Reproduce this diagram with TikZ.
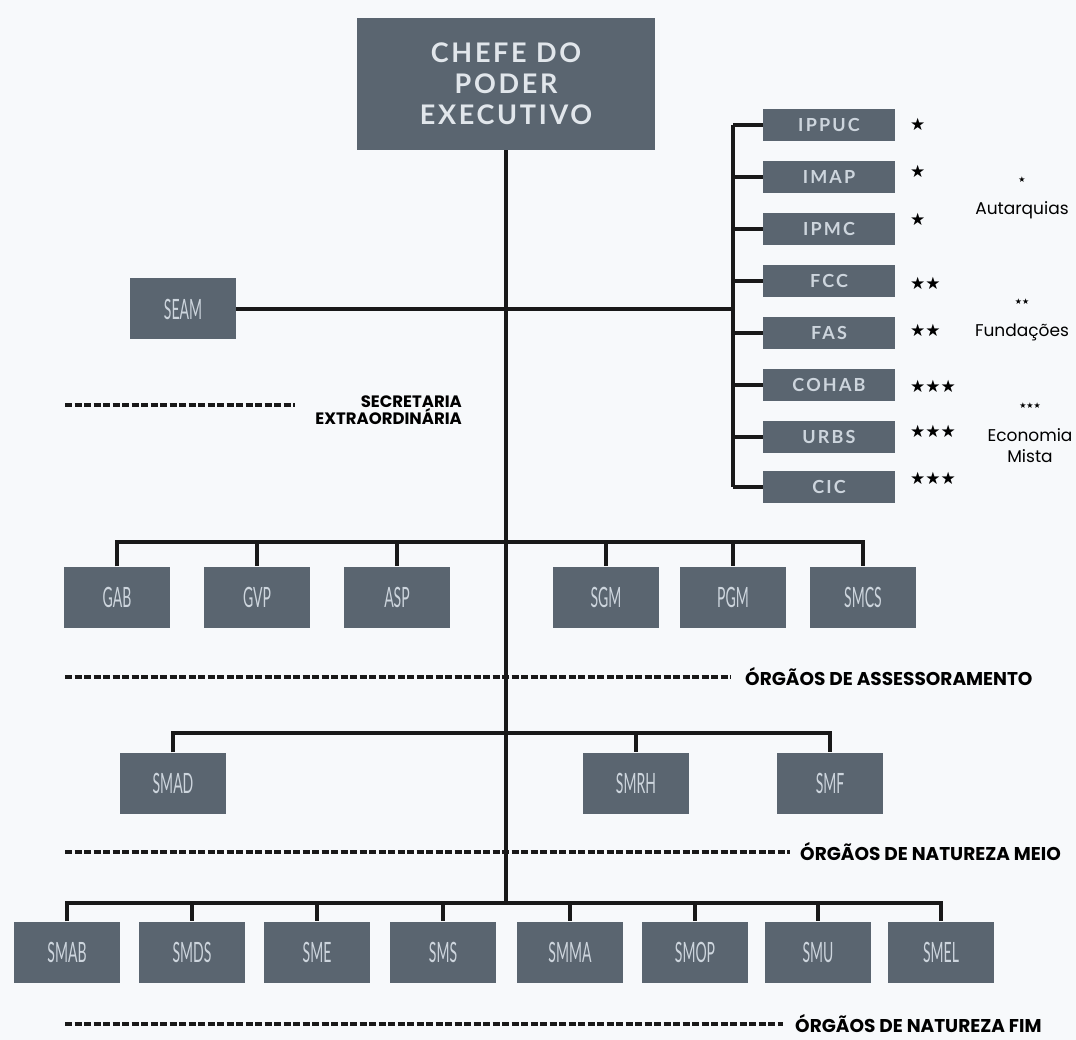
\documentclass[tikz,border=0pt]{standalone}
\usepackage{fontspec}
\setmainfont{Lato}
\newfontfamily\geofont{Poppins}
\newfontfamily\symfont{DejaVu Sans}
\newfontfamily\chefefont[LetterSpace=10]{Lato}
\newfontfamily\entfont[LetterSpace=12]{Lato}
\usepackage{tikz}
\usetikzlibrary{positioning}
\definecolor{slate}{HTML}{5A6570}
\definecolor{boxtext}{HTML}{CDD5DD}
\definecolor{paper}{HTML}{F7F9FB}
\newcommand{\cnd}[1]{\scalebox{0.5}[1]{#1}}

\begin{document}
\begin{tikzpicture}[x=1pt, y=-1pt]
\tikzstyle{box}=[fill=slate, text=boxtext, inner sep=0pt]
\tikzstyle{sec}=[box, minimum width=106pt, minimum height=61pt, font=\fontsize{28}{30}\selectfont]
\tikzstyle{ent}=[box, minimum width=132pt, minimum height=32pt, font=\entfont\bfseries\fontsize{18}{18}\selectfont]
\tikzstyle{conn}=[line width=3.5pt, draw=black!90]
\tikzstyle{sep}=[line width=4pt, draw=black!90, dash pattern=on 7pt off 2.5pt]
\tikzstyle{lbl}=[inner sep=0pt, font=\geofont\bfseries\fontsize{18.5}{20}\selectfont]
\tikzstyle{star}=[inner sep=0pt, anchor=west, font=\symfont\fontsize{17}{17}\selectfont]
\tikzstyle{mini}=[inner sep=0pt, font=\symfont\fontsize{8}{8}\selectfont]
\tikzstyle{legend}=[inner sep=0pt, align=center, font=\geofont\fontsize{17}{21}\selectfont]
\useasboundingbox[fill=paper] (0,0) rectangle (1076,1040);

% top
\node[box, minimum width=298pt, minimum height=132pt, text=boxtext!60!white,
  align=center, font=\chefefont\bfseries\fontsize{27}{31}\selectfont]
  (chefe) at (506,84) {CHEFE DO\\PODER\\EXECUTIVO};

\node[sec] (seam) at (183,309) {\cnd{SEAM}};

% entities
\node[ent] (ippuc) at (829,125) {IPPUC};
\node[ent] (imap) at (829,177) {IMAP};
\node[ent] (ipmc) at (829,229) {IPMC};
\node[ent] (fcc) at (829,281) {FCC};
\node[ent] (fas) at (829,333) {FAS};
\node[ent] (cohab) at (829,385) {COHAB};
\node[ent] (urbs) at (829,437) {URBS};
\node[ent] (cic) at (829,487) {CIC};

\node[star] (s1) at (910,124) {★};
\node[star] (s2) at (910,171) {★};
\node[star] (s3) at (910,219) {★};
\node[star] (s4) at (910,283) {★★};
\node[star] (s5) at (910,330) {★★};
\node[star] (s6) at (910,386) {★★★};
\node[star] (s7) at (910,431) {★★★};
\node[star] (s8) at (910,478) {★★★};

\node[mini] (autm) at (1022,180) {★};
\node[legend] (aut) at (1022,210) {Autarquias};
\node[mini] (fundm) at (1022,302) {★★};
\node[legend] (fund) at (1022,332) {Fundações};
\node[mini] (econm) at (1030,406) {★★★};
\node[legend] (econ) at (1030,446) {Economia\\Mista};

% assessoramento
\node[sec] (gab) at (117,597) {\cnd{GAB}};
\node[sec] (gvp) at (257,597) {\cnd{GVP}};
\node[sec] (asp) at (397,597) {\cnd{ASP}};
\node[sec] (sgm) at (606,597) {\cnd{SGM}};
\node[sec] (pgm) at (733,597) {\cnd{PGM}};
\node[sec] (smcs) at (863,597) {\cnd{SMCS}};

% natureza meio
\node[sec] (smad) at (173,783) {\cnd{SMAD}};
\node[sec] (smrh) at (636,783) {\cnd{SMRH}};
\node[sec] (smf) at (830,783) {\cnd{SMF}};

% natureza fim
\node[sec] (smab) at (67,952) {\cnd{SMAB}};
\node[sec] (smds) at (192,952) {\cnd{SMDS}};
\node[sec] (sme) at (317,952) {\cnd{SME}};
\node[sec] (sms) at (443,952) {\cnd{SMS}};
\node[sec] (smma) at (570,952) {\cnd{SMMA}};
\node[sec] (smop) at (695,952) {\cnd{SMOP}};
\node[sec] (smu) at (818,952) {\cnd{SMU}};
\node[sec] (smel) at (941,952) {\cnd{SMEL}};

% section labels
\node[lbl, align=right, anchor=north east, font=\geofont\bfseries\fontsize{16.5}{17}\selectfont]
  (extra) at (462,396) {SECRETARIA\\EXTRAORDINÁRIA};
\node[lbl, anchor=west] (assess) at (745,677) {ÓRGÃOS DE ASSESSORAMENTO};
\node[lbl, anchor=west] (meio) at (800,852) {ÓRGÃOS DE NATUREZA MEIO};
\node[lbl, anchor=west] (fim) at (795,1024) {ÓRGÃOS DE NATUREZA FIM};

\coordinate (rbus) at (733,309);
\coordinate (b2) at (506,542);
\coordinate (b3) at (506,733);
\coordinate (b4) at (506,903);
\coordinate (d1) at (65,405);
\coordinate (d2) at (65,677);
\coordinate (d3) at (65,852);
\coordinate (d4) at (65,1024);

% connectors
\draw[conn] (chefe.south) -- (b4);
\draw[conn] (seam.east) -- (rbus);
\draw[conn] (ippuc -| rbus) -- (cic -| rbus);
\path[conn]
(ippuc -| rbus) edge (ippuc)
(imap -| rbus) edge (imap)
(ipmc -| rbus) edge (ipmc)
(fcc -| rbus) edge (fcc)
(fas -| rbus) edge (fas)
(cohab -| rbus) edge (cohab)
(urbs -| rbus) edge (urbs)
(cic -| rbus) edge (cic);

\draw[conn] (gab.north) |- (b2) -| (smcs.north);
\path[conn]
(gvp.north |- b2) edge (gvp)
(asp.north |- b2) edge (asp)
(sgm.north |- b2) edge (sgm)
(pgm.north |- b2) edge (pgm);

\draw[conn] (smad.north) |- (b3) -| (smf.north);
\path[conn] (smrh.north |- b3) edge (smrh);

\draw[conn] (smab.north) |- (b4) -| (smel.north);
\path[conn]
(smds.north |- b4) edge (smds)
(sme.north |- b4) edge (sme)
(sms.north |- b4) edge (sms)
(smma.north |- b4) edge (smma)
(smop.north |- b4) edge (smop)
(smu.north |- b4) edge (smu);

% dashed separators
\draw[sep] (d1) -- (295,405);
\draw[sep] (d2) -- ([xshift=-14pt]assess.west);
\draw[sep] (d3) -- ([xshift=-10pt]meio.west);
\draw[sep] (d4) -- ([xshift=-12pt]fim.west);

\end{tikzpicture}
\end{document}
